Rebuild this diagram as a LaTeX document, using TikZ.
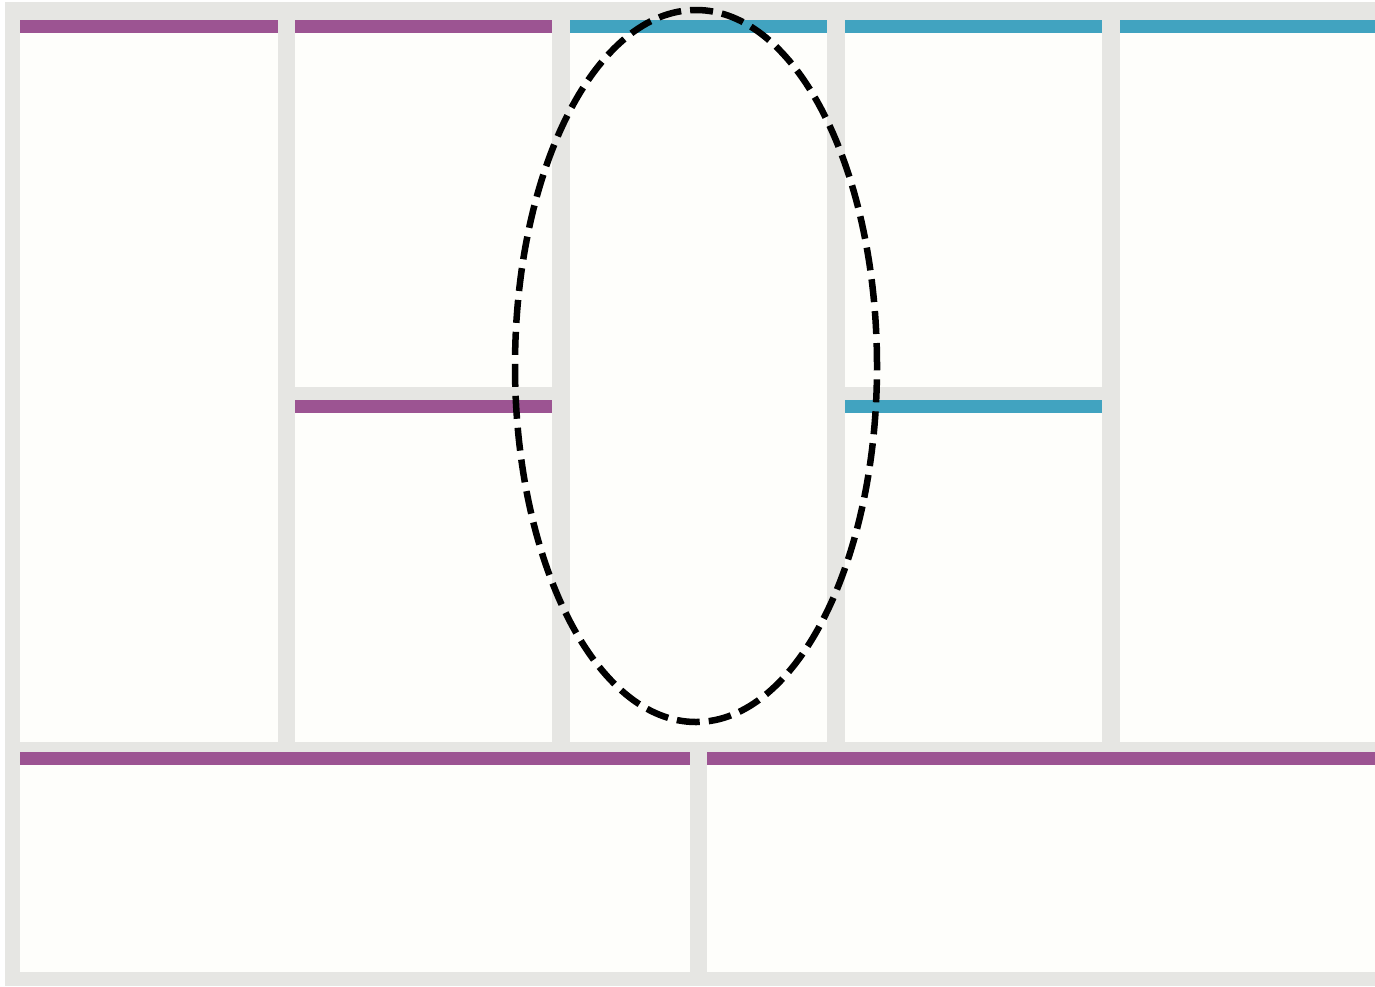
\documentclass[tikz,border=0pt]{standalone}
\usetikzlibrary{shapes.geometric}
\definecolor{canvasgray}{RGB}{230,230,227}
\definecolor{canvaswhite}{RGB}{254,254,251}
\definecolor{canvaspurple}{RGB}{156,84,146}
\definecolor{canvasteal}{RGB}{65,163,192}
\newcommand{\topbar}[2]{\fill[#2] (#1.north west) rectangle ([yshift=-13pt]#1.north east);}

\begin{document}
\begin{tikzpicture}[x=1pt, y=-1pt,
  panel/.style={fill=canvaswhite, anchor=north west, inner sep=0pt},
  focusring/.style={draw=black, ellipse, line width=6.5pt,
                    dash pattern=on 23pt off 9pt, inner sep=0pt}]

\useasboundingbox (0,0) rectangle (1375,986);
\fill[white] (0,0) rectangle (1375,986);
\fill[canvasgray] (5,2) rectangle (1375,986);

% upper row
\node[panel, minimum width=258pt, minimum height=722pt] (partners)  at (20,20)   {};
\node[panel, minimum width=257pt, minimum height=367pt] (activities) at (295,20) {};
\node[panel, minimum width=257pt, minimum height=342pt] (resources) at (295,400) {};
\node[panel, minimum width=257pt, minimum height=722pt] (value)     at (570,20)  {};
\node[panel, minimum width=257pt, minimum height=367pt] (relations) at (845,20)  {};
\node[panel, minimum width=257pt, minimum height=342pt] (channels)  at (845,400) {};
\node[panel, minimum width=255pt, minimum height=722pt] (segments)  at (1120,20) {};
% bottom row
\node[panel, minimum width=670pt, minimum height=220pt] (costs)     at (20,752)  {};
\node[panel, minimum width=668pt, minimum height=220pt] (revenue)   at (707,752) {};

\topbar{partners}{canvaspurple}
\topbar{activities}{canvaspurple}
\topbar{resources}{canvaspurple}
\topbar{value}{canvasteal}
\topbar{relations}{canvasteal}
\topbar{channels}{canvasteal}
\topbar{segments}{canvasteal}
\topbar{costs}{canvaspurple}
\topbar{revenue}{canvaspurple}

\node[focusring, minimum width=362pt, minimum height=712pt] (focus) at (696,366) {};
\end{tikzpicture}
\end{document}
